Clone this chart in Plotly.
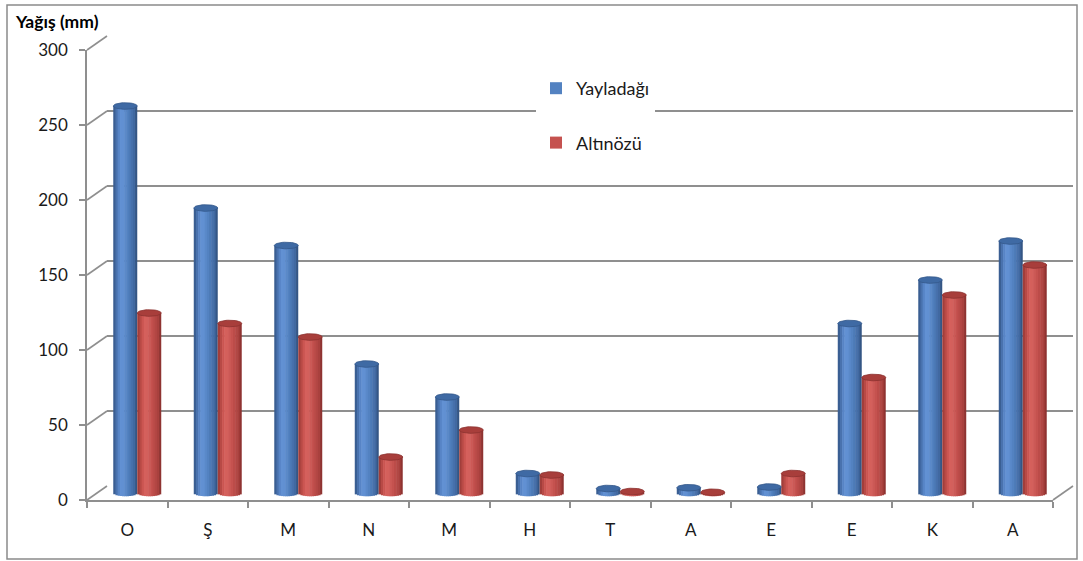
import math
import plotly.graph_objects as go

# ---- data -------------------------------------------------------------
months = ["O", "Ş", "M", "N", "M", "H", "T", "A", "E", "E", "K", "A"]
yayladagi = [258, 190, 165, 86, 64, 13, 3, 3.5, 4, 113, 142, 168]
altinozu = [120, 113, 104, 24, 42, 12, 1, 0.5, 13, 77, 132, 152]
series_names = ["Yayladağı", "Altınözü"]
y_ticks = [0, 50, 100, 150, 200, 250, 300]

# ---- canvas geometry (pixels) ------------------------------------------
W_PX, H_PX = 1083, 561
BACK_X0, BACK_X1, BACK_ZERO = 107, 1073, 486      # back wall
FRONT_DX, FRONT_DY = -20, 14                      # front edge offset
MID_DX, MID_DY = -10, 7                           # column row offset
PX_PER_MM = 1.5
Y_MAX = 300
Y_MIN_MID = -10

FONT = "Lato"
TXT = "#1a1a1a"
GRID = "#8f8f8f"


def fx(x):
    return x / W_PX


def fy(y):
    return 1 - y / H_PX


n_cat = len(months)
x_range = [-0.5, n_cat - 0.5]

# ---- cylinder shading --------------------------------------------------
BLUE_STOPS = [(-1.0, (50, 84, 132)), (-0.6, (84, 128, 194)), (-0.3, (102, 149, 215)),
              (0.25, (80, 127, 190)), (0.75, (64, 104, 160)), (1.0, (45, 75, 118))]
RED_STOPS = [(-1.0, (150, 56, 54)), (-0.6, (200, 82, 78)), (-0.3, (216, 100, 96)),
             (0.25, (194, 80, 77)), (0.75, (168, 64, 61)), (1.0, (128, 44, 42))]
TOP_COLORS = ["rgb(63,106,164)", "rgb(168,62,59)"]
TOP_LINES = ["rgb(52,88,138)", "rgb(140,50,48)"]


def shade(stops, u):
    for (u0, c0), (u1, c1) in zip(stops[:-1], stops[1:]):
        if u0 <= u <= u1:
            t = (u - u0) / (u1 - u0)
            r, g, b = (round(a + (b_ - a) * t) for a, b_ in zip(c0, c1))
            return f"rgb({r},{g},{b})"
    return f"rgb{stops[-1][1]}"


BAR_W = 0.298          # width of one column in category units
N_STRIPS = 11
ELL = 2.2              # half-height of the end ellipses, in mm

fig = go.Figure()

# empty traces so the back-wall and front-edge subplots get drawn
fig.add_trace(go.Scatter(x=[], y=[], xaxis="x", yaxis="y",
                         showlegend=False, hoverinfo="skip"))
fig.add_trace(go.Scatter(x=[], y=[], xaxis="x2", yaxis="y2",
                         showlegend=False, hoverinfo="skip"))

for s, (name, values, stops) in enumerate(
        zip(series_names, [yayladagi, altinozu], [BLUE_STOPS, RED_STOPS])):
    start = -BAR_W if s == 0 else 0.0
    sw = BAR_W / N_STRIPS
    for i in range(N_STRIPS):
        u = -1 + (2 * i + 1) / N_STRIPS
        k = math.sqrt(max(0.0, 1 - u * u))
        fig.add_trace(go.Bar(
            x=list(range(n_cat)),
            y=[v + ELL * k for v in values],
            base=[-ELL * k] * n_cat,
            offset=start + i * sw,
            width=sw * (1.25 if i < N_STRIPS - 1 else 1.0),
            marker=dict(color=shade(stops, u), line=dict(width=0)),
            name=name,
            legendgroup=name,
            showlegend=(i == 6),
            xaxis="x3", yaxis="y3",
            hoverinfo="skip",
        ))
    # top ellipse of every column
    ex, ey = [], []
    cx_off = start + BAR_W / 2
    for c, v in enumerate(values):
        for j in range(41):
            t = 2 * math.pi * j / 40
            ex.append(c + cx_off + BAR_W / 2 * math.cos(t))
            ey.append(v + ELL * math.sin(t))
        ex.append(None)
        ey.append(None)
    fig.add_trace(go.Scatter(
        x=ex, y=ey, mode="lines", fill="toself",
        fillcolor=TOP_COLORS[s], line=dict(color=TOP_LINES[s], width=0.8),
        name=name, legendgroup=name, showlegend=False,
        xaxis="x3", yaxis="y3", hoverinfo="skip",
    ))

# ---- frame lines joining the front axis to the back wall ----------------
shapes = []
for v in y_ticks:
    yb = BACK_ZERO - v * PX_PER_MM
    shapes.append(dict(type="line", xref="paper", yref="paper",
                       x0=fx(BACK_X0 + FRONT_DX), y0=fy(yb + FRONT_DY),
                       x1=fx(BACK_X0), y1=fy(yb),
                       line=dict(color=GRID, width=1.6), layer="below"))
shapes.append(dict(type="line", xref="paper", yref="paper",
                   x0=fx(BACK_X1 + FRONT_DX), y0=fy(BACK_ZERO + FRONT_DY),
                   x1=fx(BACK_X1), y1=fy(BACK_ZERO),
                   line=dict(color=GRID, width=1.6), layer="below"))
# outer chart border
shapes.append(dict(type="rect", xref="paper", yref="paper",
                   x0=fx(7), y0=fy(559), x1=fx(1077), y1=fy(5),
                   line=dict(color="#8a8a8a", width=1.5), layer="below"))

back_top = BACK_ZERO - Y_MAX * PX_PER_MM
front_zero = BACK_ZERO + FRONT_DY
mid_zero = BACK_ZERO + MID_DY

fig.update_layout(
    width=W_PX, height=H_PX,
    margin=dict(l=0, r=0, t=0, b=0, pad=0, autoexpand=False),
    paper_bgcolor="white", plot_bgcolor="rgba(0,0,0,0)",
    barmode="overlay",
    font=dict(family=FONT, size=17, color=TXT),
    shapes=shapes,
    # back wall: carries the horizontal gridlines
    xaxis=dict(domain=[fx(BACK_X0), fx(BACK_X1)], range=x_range, anchor="y",
               showticklabels=False, ticks="", showgrid=False, zeroline=False,
               showline=False, automargin=False),
    yaxis=dict(domain=[fy(BACK_ZERO), fy(back_top)], range=[0, Y_MAX], anchor="x",
               tickvals=y_ticks, showticklabels=False, ticks="",
               showgrid=True, gridcolor=GRID, gridwidth=1.6,
               zeroline=False, showline=False, automargin=False),
    # front edge: value labels and month labels
    xaxis2=dict(domain=[fx(BACK_X0 + FRONT_DX), fx(BACK_X1 + FRONT_DX)], range=x_range,
                anchor="y2", tickvals=list(range(n_cat)), ticktext=months,
                ticks="", showgrid=False, zeroline=False, automargin=False,
                showline=True, linecolor=GRID, linewidth=1.6,
                ticklabelstandoff=14,
                tickfont=dict(family=FONT, size=17, color=TXT),
                minor=dict(tickvals=[c - 0.5 for c in range(n_cat + 1)],
                           ticks="outside", ticklen=6, tickcolor=GRID,
                           tickwidth=1.6, showgrid=False)),
    yaxis2=dict(domain=[fy(front_zero), fy(front_zero - Y_MAX * PX_PER_MM)],
                range=[0, Y_MAX], anchor="x2", automargin=False,
                tickvals=y_ticks, ticks="outside", ticklen=6, tickcolor=GRID,
                tickwidth=1.6, showline=True, linecolor=GRID, linewidth=1.6,
                showgrid=False, zeroline=False, ticklabelstandoff=8,
                tickfont=dict(family=FONT, size=17, color=TXT)),
    # middle row: the columns themselves
    xaxis3=dict(domain=[fx(BACK_X0 + MID_DX), fx(BACK_X1 + MID_DX)], range=x_range,
                visible=False, anchor="y3", automargin=False),
    yaxis3=dict(domain=[fy(mid_zero - Y_MIN_MID * PX_PER_MM),
                        fy(mid_zero - Y_MAX * PX_PER_MM)],
                range=[Y_MIN_MID, Y_MAX], visible=False, anchor="x3",
                automargin=False),
    legend=dict(x=fx(536), y=fy(70), xanchor="left", yanchor="top",
                bgcolor="white", borderwidth=0, tracegroupgap=28,
                font=dict(family=FONT, size=18, color=TXT),
                itemclick=False, itemdoubleclick=False),
    annotations=[dict(text="<b>Yağış (mm)</b>", xref="paper", yref="paper",
                      x=fx(13), y=fy(22), xanchor="left", yanchor="middle",
                      showarrow=False,
                      font=dict(family=FONT, size=17.5, color="#000000"))],
)

fig.write_html("out.html")
